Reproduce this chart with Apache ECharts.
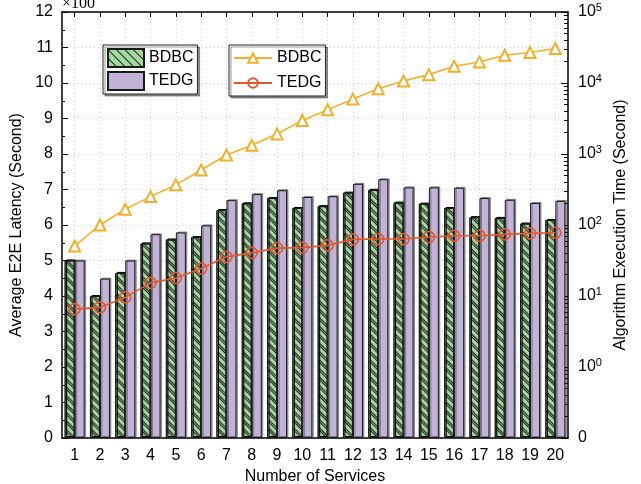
<!DOCTYPE html>
<html>
<head>
<meta charset="utf-8">
<script src="https://cdn.jsdelivr.net/npm/echarts@6/dist/echarts.min.js"></script>
<style>html,body{margin:0;padding:0;background:#fff}#c{width:641px;height:484px}</style>
</head>
<body>
<div id="c"></div>
<script>
const categories = ['1','2','3','4','5','6','7','8','9','10','11','12','13','14','15','16','17','18','19','20'];
// Average E2E latency (x100 seconds)
const latencyBDBC = [5.0, 4.0, 4.65, 5.48, 5.59, 5.66, 6.42, 6.61, 6.76, 6.48, 6.53, 6.91, 6.99, 6.63, 6.6, 6.48, 6.22, 6.2, 6.04, 6.14];
const latencyTEDG = [5.0, 4.49, 5.0, 5.74, 5.79, 5.99, 6.7, 6.87, 6.98, 6.79, 6.81, 7.16, 7.29, 7.06, 7.06, 7.05, 6.76, 6.71, 6.62, 6.68];
// Algorithm execution time (seconds, log scale)
const execBDBC = [50.5, 100, 167, 251, 368, 594, 968, 1324, 1919, 2963, 4198, 5930, 8318, 10660, 13120, 17220, 19810, 24600, 26870, 30620];
const execTEDG = [6.54, 6.91, 9.57, 15.3, 17.9, 24.4, 35.6, 40.5, 47.2, 48.0, 51.6, 62.7, 63.4, 63.4, 67.6, 70.5, 70.5, 73.8, 76.3, 77.8];
const leftTicks = {min: 0, max: 12, interval: 1};
const rightRange = {min: 0.1, max: 100000};

const minorLog = [];
for (let e = -1; e < 5; e++) for (let k = 2; k <= 9; k++) minorLog.push(k * Math.pow(10, e));

const FONT = 'Liberation Sans, Arial, sans-serif';
const chart = echarts.init(document.getElementById('c'), null, {renderer: 'canvas'});
const hatch = {symbol: 'rect', dashArrayX: [1, 0], dashArrayY: [0.9, 4.9], rotation: Math.PI / 4, color: '#222'};
const barStyle = (c, decal) => ({color: c, borderColor: '#1a1a1a', borderWidth: 1, shadowColor: 'rgba(0,0,0,0.35)', shadowOffsetX: 1.5, shadowOffsetY: -1, shadowBlur: 0, decal: decal});

chart.setOption({
  animation: false,
  backgroundColor: '#fff',
  textStyle: {fontFamily: FONT, color: '#000'},
  grid: {left: 62, right: 73, top: 12, bottom: 46, outerBoundsMode: 'none', containLabel: false},
  graphic: [{type: 'text', left: 62, top: -4, style: {text: '\u00d7100', font: '16px Liberation Serif, serif', fill: '#000'}}],
  legend: [
    {data: ['BDBC', 'TEDG'], orient: 'vertical', left: 103, top: 45, itemWidth: 36, itemHeight: 18, itemGap: 3,
     padding: [3, 4, 3, 4], borderColor: '#222', borderWidth: 1, backgroundColor: '#fff',
     shadowColor: 'rgba(0,0,0,0.4)', shadowOffsetX: 2, shadowOffsetY: 2, shadowBlur: 0,
     icon: 'rect', textStyle: {fontSize: 16, fontFamily: FONT, color: '#000'}, selectedMode: false},
    {data: ['BDBC ', 'TEDG '], orient: 'vertical', left: 229, top: 45, itemWidth: 38, itemHeight: 12, itemGap: 9,
     padding: [5, 4, 5, 4], borderColor: '#222', borderWidth: 1, backgroundColor: '#fff',
     shadowColor: 'rgba(0,0,0,0.4)', shadowOffsetX: 2, shadowOffsetY: 2, shadowBlur: 0,
     formatter: n => n.trim(), textStyle: {fontSize: 16, fontFamily: FONT, color: '#000'}, selectedMode: false}
  ],
  xAxis: [
    {type: 'category', data: categories, position: 'bottom',
     name: 'Number of Services', nameLocation: 'middle', nameGap: 28, nameTextStyle: {fontSize: 16, color: '#000'},
     axisLine: {lineStyle: {color: '#000', width: 1.5}},
     axisTick: {show: true, inside: true, alignWithLabel: true, length: 5, lineStyle: {color: '#000'}},
     axisLabel: {fontSize: 16, color: '#000', margin: 10, interval: 0},
     splitLine: {show: true, alignWithLabel: true, lineStyle: {color: '#d0d0d0', type: [1, 3], width: 1}}},
    {type: 'category', data: categories, position: 'top',
     axisLine: {lineStyle: {color: '#000', width: 1.5}},
     axisTick: {show: true, inside: true, alignWithLabel: true, length: 5, lineStyle: {color: '#000'}},
     axisLabel: {show: false}, splitLine: {show: false}}
  ],
  yAxis: [
    {type: 'value', min: leftTicks.min, max: leftTicks.max, interval: leftTicks.interval, position: 'left',
     name: 'Average E2E Latency (Second)', nameLocation: 'middle', nameGap: 28, nameTextStyle: {fontSize: 16, color: '#000'},
     axisLine: {show: true, lineStyle: {color: '#000', width: 1.5}},
     axisTick: {show: true, inside: true, length: 6, lineStyle: {color: '#000'}},
     minorTick: {show: true, splitNumber: 2, length: 3, lineStyle: {color: '#000'}},
     axisLabel: {fontSize: 16, color: '#000', margin: 9},
     splitLine: {show: true, lineStyle: {color: '#d0d0d0', type: [1, 3], width: 1}}},
    {type: 'log', logBase: 10, min: rightRange.min, max: rightRange.max, position: 'right',
     name: 'Algorithm Execution Time (Second)', nameLocation: 'middle', nameGap: 34, nameRotate: 90,
     nameTextStyle: {fontSize: 16, color: '#000'},
     axisLine: {show: true, lineStyle: {color: '#000', width: 1.5}},
     axisTick: {show: true, inside: true, length: 7, lineStyle: {color: '#000'}},
     axisLabel: {margin: 10, color: '#000',
       formatter: v => { const p = Math.round(Math.log10(v)); return p < 0 ? '{b|0}' : '{b|10}{s|' + p + '}'; },
       rich: {b: {fontSize: 16, fontFamily: FONT, color: '#000'}, s: {fontSize: 11, fontFamily: FONT, color: '#000', verticalAlign: 'top', padding: [0, 0, 8, 0]}}},
     splitLine: {show: false}},
    {type: 'log', logBase: 10, min: rightRange.min, max: rightRange.max, position: 'right',
     axisLine: {show: false},
     axisTick: {show: true, inside: true, length: 4, customValues: minorLog, lineStyle: {color: '#000'}},
     axisLabel: {show: false}, splitLine: {show: false}}
  ],
  series: [
    {name: 'BDBC', type: 'bar', data: latencyBDBC, barWidth: 10, barGap: '0%', itemStyle: barStyle('#a3da9f', hatch)},
    {name: 'TEDG', type: 'bar', data: latencyTEDG, barWidth: 10, barGap: '0%', itemStyle: barStyle('#c1b2d8', null)},
    {name: 'BDBC ', type: 'line', yAxisIndex: 1, data: execBDBC, symbol: 'emptyTriangle', symbolSize: 11,
     lineStyle: {color: '#f0b02a', width: 1.6}, itemStyle: {color: '#f0b02a', borderWidth: 1.6}, z: 5},
    {name: 'TEDG ', type: 'line', yAxisIndex: 1, data: execTEDG, symbol: 'circle', symbolSize: 11,
     lineStyle: {color: '#e2572b', width: 1.6}, itemStyle: {color: 'rgba(255,255,255,0)', borderColor: '#e2572b', borderWidth: 1.6}, z: 5}
  ]
});
</script>
</body>
</html>
